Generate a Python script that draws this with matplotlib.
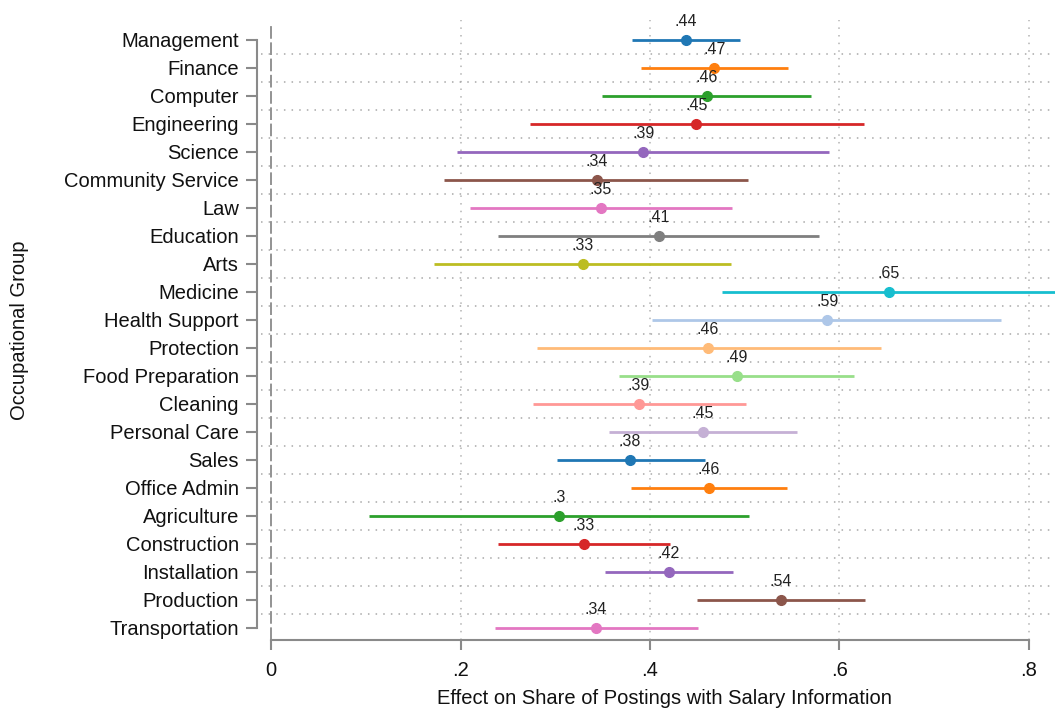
import matplotlib
matplotlib.use("Agg")
import matplotlib.pyplot as plt
import numpy as np

categories = ["Management", "Finance", "Computer", "Engineering", "Science",
              "Community Service", "Law", "Education", "Arts", "Medicine",
              "Health Support", "Protection", "Food Preparation", "Cleaning",
              "Personal Care", "Sales", "Office Admin", "Agriculture",
              "Construction", "Installation", "Production", "Transportation"]
estimates = [0.438, 0.468, 0.460, 0.449, 0.393, 0.344, 0.348, 0.409, 0.329, 0.652,
             0.587, 0.461, 0.492, 0.388, 0.456, 0.379, 0.462, 0.304, 0.330, 0.420,
             0.538, 0.343]
ci_low = [0.381, 0.390, 0.349, 0.273, 0.196, 0.183, 0.210, 0.240, 0.172, 0.476,
          0.402, 0.281, 0.367, 0.277, 0.357, 0.302, 0.380, 0.103, 0.240, 0.352,
          0.450, 0.236]
ci_high = [0.495, 0.546, 0.570, 0.626, 0.589, 0.503, 0.487, 0.578, 0.485, 0.840,
           0.771, 0.644, 0.615, 0.501, 0.555, 0.458, 0.545, 0.504, 0.421, 0.488,
           0.627, 0.451]
value_labels = [".44", ".47", ".46", ".45", ".39", ".34", ".35", ".41", ".33", ".65",
                ".59", ".46", ".49", ".39", ".45", ".38", ".46", ".3", ".33", ".42",
                ".54", ".34"]
xticks = [0, 0.2, 0.4, 0.6, 0.8]
xtick_labels = ["0", ".2", ".4", ".6", ".8"]

colors = ["#1f77b4", "#ff7f0e", "#2ca02c", "#d62728", "#9467bd", "#8c564b",
          "#e377c2", "#7f7f7f", "#bcbd22", "#17becf",
          "#aec7e8", "#ffbb78", "#98df8a", "#ff9896", "#c5b0d5",
          "#1f77b4", "#ff7f0e", "#2ca02c", "#d62728", "#9467bd", "#8c564b",
          "#e377c2"]

plt.rcParams['font.family'] = ['Liberation Sans', 'DejaVu Sans']

fig = plt.figure(figsize=(10.61, 7.13), dpi=100)
ax = fig.add_axes([257/1061, (713-640)/713, (1055-257)/1061, (640-20)/713])

n = len(categories)
ypos = np.arange(n)
spine_c = "#8a8a8a"

ax.set_xlim(-0.0148, 0.8275)
ax.set_ylim(21.43, -0.71)

# gridlines
for xv in xticks[1:]:
    ax.axvline(xv, color="#b4b4b4", lw=1.1, ls=(0, (1, 4)), zorder=0)
ax.hlines(ypos[:-1] + 0.5, -0.0105, 0.8275, color="#a8a8a8", lw=1.1,
          linestyles=[(0, (1, 4))], zorder=0)
ax.plot([0, 0], [21.43, -0.55], color="#8a8a8a", lw=1.3, ls=(0, (7, 2)), zorder=1)

for i in range(n):
    ax.plot([ci_low[i], ci_high[i]], [ypos[i], ypos[i]], color=colors[i], lw=2.0,
            solid_capstyle="butt", zorder=2, clip_on=True)
    ax.plot(estimates[i], ypos[i], "o", color=colors[i], ms=7, zorder=3)
    ax.annotate(value_labels[i], (estimates[i], ypos[i]), xytext=(0, 8),
                textcoords="offset points", ha="center", va="bottom",
                fontsize=11.5, color="#222222")

ax.set_yticks(ypos)
ax.set_yticklabels(categories, fontsize=14.5, color="#111111")
ax.set_xticks(xticks)
ax.set_xticklabels(xtick_labels, fontsize=14.5, color="#111111")

for s in ["top", "right"]:
    ax.spines[s].set_visible(False)
ax.spines["left"].set_bounds(0, n - 1)
ax.spines["bottom"].set_bounds(0, 0.8)
for s in ["left", "bottom"]:
    ax.spines[s].set_color(spine_c)
    ax.spines[s].set_linewidth(1.5)
ax.tick_params(axis="y", length=8, width=1.5, color=spine_c, pad=5)
ax.tick_params(axis="x", length=7, width=1.5, color=spine_c, pad=8)

ax.set_xlabel("Effect on Share of Postings with Salary Information", fontsize=14.5,
              color="#111111")
ax.xaxis.set_label_coords((664 - 257) / 798, -(689 - 640) / 620)
ax.set_ylabel("Occupational Group", fontsize=14.5, color="#111111")
ax.yaxis.set_label_coords((29 - 257) / 798, 0.5)

fig.savefig("out.png", dpi=100)
